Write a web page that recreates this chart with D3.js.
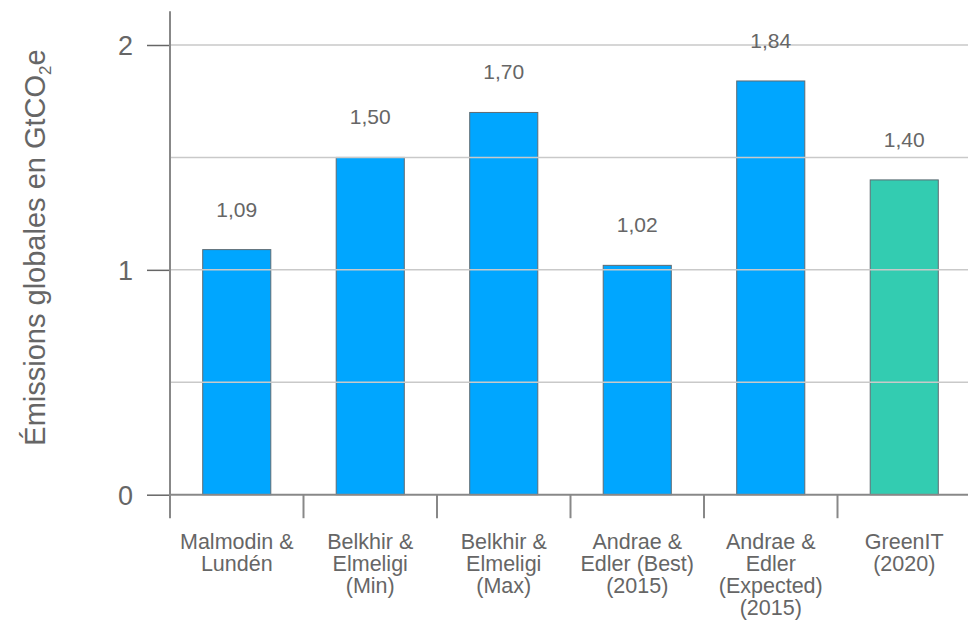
<!DOCTYPE html>
<html>
<head>
<meta charset="utf-8">
<script src="https://cdn.jsdelivr.net/npm/d3@7"></script>
<style>
  html, body { margin: 0; padding: 0; background: #fff; }
  svg { display: block; font-family: Arial, "Liberation Sans", Helvetica, sans-serif; }
</style>
</head>
<body>
<svg id="chart" width="968" height="621"></svg>
<script>
// Estimates of global ICT emissions (GtCO2e) by study
const categories = [
  ["Malmodin &", "Lundén"],
  ["Belkhir &", "Elmeligi", "(Min)"],
  ["Belkhir &", "Elmeligi", "(Max)"],
  ["Andrae &", "Edler (Best)", "(2015)"],
  ["Andrae &", "Edler", "(Expected)", "(2015)"],
  ["GreenIT", "(2020)"]
];
const values = [1.09, 1.50, 1.70, 1.02, 1.84, 1.40];
const valueLabels = ["1,09", "1,50", "1,70", "1,02", "1,84", "1,40"];
const barColors = ["#00a6ff", "#00a6ff", "#00a6ff", "#00a6ff", "#00a6ff", "#33ccb1"];
const yTicks = [0, 1, 2];
const gridValues = [0.5, 1, 1.5, 2];

const svg = d3.select("#chart");
const textColor = "#666";

const x0 = 170, step = 133.5;
const x = d3.scaleBand()
  .domain(d3.range(categories.length))
  .range([x0, x0 + step * categories.length])
  .paddingInner(0.49)
  .paddingOuter(0.245);
const xEdges = d3.scaleLinear().domain([0, categories.length]).range([x0, x0 + step * categories.length]);

const y = d3.scaleLinear().domain([0, 2]).range([494.7, 45]);

// Bars
svg.append("g").selectAll("rect")
  .data(values)
  .join("rect")
  .attr("x", (d, i) => x(i))
  .attr("y", d => y(d))
  .attr("width", x.bandwidth())
  .attr("height", d => y(0) - y(d))
  .attr("fill", (d, i) => barColors[i])
  .attr("stroke", "#5f6b72")
  .attr("stroke-width", 1);

// Horizontal grid, drawn over the bars
svg.append("g").selectAll("line")
  .data(gridValues)
  .join("line")
  .attr("x1", x0).attr("x2", 968)
  .attr("y1", d => y(d)).attr("y2", d => y(d))
  .attr("stroke", "#c9c9c9")
  .attr("stroke-width", 1.5);

// Value axis
const yAxis = d3.axisLeft(y)
  .tickValues(yTicks)
  .tickSize(23)
  .tickPadding(14)
  .tickFormat(d3.format("d"));
const gy = svg.append("g").attr("transform", `translate(${x0},0)`).call(yAxis);
gy.select(".domain").remove();
gy.selectAll(".tick line").attr("stroke", "#666").attr("stroke-width", 1.5);
gy.selectAll(".tick text")
  .attr("fill", textColor)
  .style("font-size", "27px")
  .attr("dy", "0.36em");
gy.append("line")
  .attr("x1", 0).attr("x2", 0)
  .attr("y1", y(2.15)).attr("y2", y(0) + 23.5)
  .attr("stroke", "#888").attr("stroke-width", 2);

// Category axis baseline and separators
svg.append("line")
  .attr("x1", x0).attr("x2", 968)
  .attr("y1", y(0)).attr("y2", y(0))
  .attr("stroke", "#888").attr("stroke-width", 2);
svg.append("g").selectAll("line")
  .data(d3.range(1, categories.length + 1))
  .join("line")
  .attr("x1", d => xEdges(d)).attr("x2", d => xEdges(d))
  .attr("y1", y(0)).attr("y2", y(0) + 23.5)
  .attr("stroke", "#888").attr("stroke-width", 2);

// Category labels, one text per line
const catLines = categories.flatMap((lines, i) => lines.map((line, j) => ({ i, j, line })));
svg.append("g")
  .attr("fill", textColor)
  .style("font-size", "21.5px")
  .attr("text-anchor", "middle")
  .selectAll("text")
  .data(catLines)
  .join("text")
  .attr("x", d => x(d.i) + x.bandwidth() / 2)
  .attr("y", d => 548.5 + d.j * 22)
  .text(d => d.line);

// Value labels above bars
svg.append("g").selectAll("text")
  .data(values)
  .join("text")
  .attr("x", (d, i) => x(i) + x.bandwidth() / 2)
  .attr("y", d => y(d) - 33)
  .attr("text-anchor", "middle")
  .attr("fill", textColor)
  .style("font-size", "21px")
  .text((d, i) => valueLabels[i]);

// Value axis title
const title = svg.append("text")
  .attr("transform", `translate(45,${(48 + 447) / 2}) rotate(-90)`)
  .attr("text-anchor", "middle")
  .attr("fill", textColor)
  .style("font-size", "29px");
title.append("tspan").text("Émissions globales en GtCO");
title.append("tspan").attr("dy", 6).style("font-size", "17px").text("2");
title.append("tspan").attr("dy", -6).text("e");
</script>
</body>
</html>
